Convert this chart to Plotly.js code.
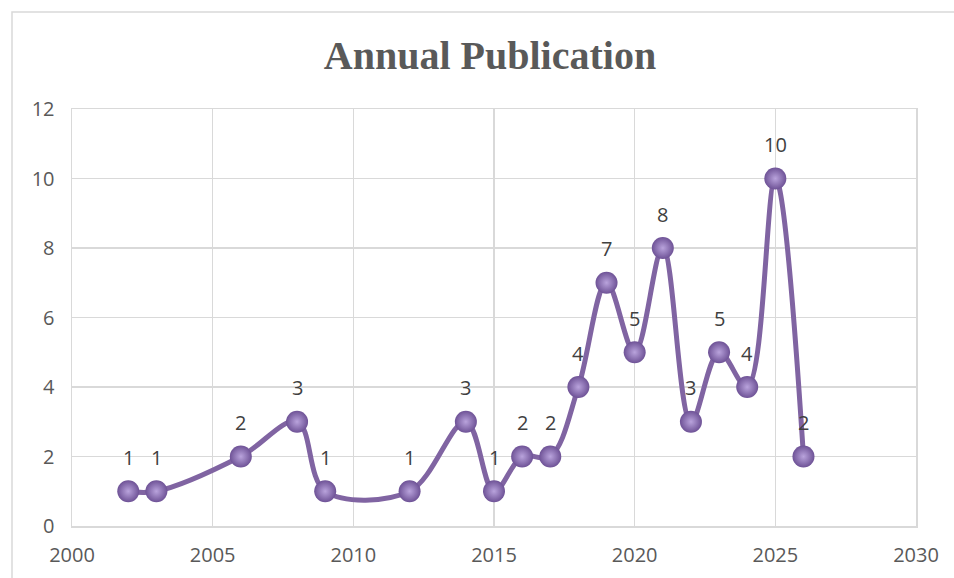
<!DOCTYPE html>
<html>
<head>
<meta charset="utf-8">
<script src="https://cdn.plot.ly/plotly-3.0.1.min.js"></script>
<style>
html,body{margin:0;padding:0;background:#fff;}
#chart{width:954px;height:578px;}
</style>
</head>
<body>
<div id="chart"></div>
<script>
const years = [2002, 2003, 2006, 2008, 2009, 2012, 2014, 2015, 2016, 2017, 2018, 2019, 2020, 2021, 2022, 2023, 2024, 2025, 2026];
const counts = [1, 1, 2, 3, 1, 1, 3, 1, 2, 2, 4, 7, 5, 8, 3, 5, 4, 10, 2];
const xTicks = [2000, 2005, 2010, 2015, 2020, 2025, 2030];
const yTicks = [0, 2, 4, 6, 8, 10, 12];
const chartTitle = 'Annual Publication';

const trace = {
  x: years,
  y: counts,
  type: 'scatter',
  mode: 'lines+markers',
  line: {shape: 'spline', smoothing: 1, color: '#8064A2', width: 5},
  marker: {
    size: 22,
    color: '#6e5296',
    gradient: {type: 'radial', color: '#b9a3dc'},
    line: {width: 0}
  },
  cliponaxis: false,
  hoverinfo: 'x+y'
};

const labels = years.map((yr, i) => ({
  x: yr,
  y: counts[i],
  text: String(counts[i]),
  showarrow: false,
  yshift: 34,
  font: {family: 'Open Sans, sans-serif', size: 20, color: '#404040'}
}));

const layout = {
  width: 954,
  height: 578,
  margin: {l: 72, r: 38, t: 109, b: 52},
  paper_bgcolor: '#ffffff',
  plot_bgcolor: '#ffffff',
  showlegend: false,
  title: {
    text: '<b>' + chartTitle + '</b>',
    font: {family: 'Liberation Serif, serif', size: 40, color: '#595959'},
    x: 490 / 954, xanchor: 'center',
    y: 1 - 55/578, yanchor: 'middle'
  },
  xaxis: {
    range: [2000, 2030],
    tickvals: xTicks,
    ticktext: xTicks.map(String),
    showgrid: true,
    gridcolor: '#d9d9d9',
    gridwidth: 1.5,
    zeroline: false,
    showline: true,
    linecolor: '#d9d9d9',
    linewidth: 1.5,
    mirror: true,
    ticks: '',
    ticklen: 0,
    ticklabelstandoff: 10,
    tickfont: {family: 'Open Sans, sans-serif', size: 20, color: '#595959'},
    fixedrange: true
  },
  yaxis: {
    range: [0, 12],
    tickvals: yTicks,
    ticktext: yTicks.map(String),
    showgrid: true,
    gridcolor: '#d9d9d9',
    gridwidth: 1.5,
    zeroline: false,
    showline: true,
    linecolor: '#d9d9d9',
    linewidth: 1.5,
    mirror: true,
    ticks: '',
    ticklabelstandoff: 12,
    tickfont: {family: 'Open Sans, sans-serif', size: 20, color: '#595959'},
    fixedrange: true
  },
  annotations: labels,
  shapes: [{
    type: 'rect',
    xref: 'paper', yref: 'paper',
    x0: (12 - 72) / 844, x1: 1.2,
    y0: -0.3, y1: (526 - 12) / 417,
    line: {color: '#d9d9d9', width: 1.5},
    fillcolor: 'rgba(0,0,0,0)',
    layer: 'below'
  }]
};

Plotly.newPlot('chart', [trace], layout, {displayModeBar: false, staticPlot: true});
</script>
</body>
</html>
